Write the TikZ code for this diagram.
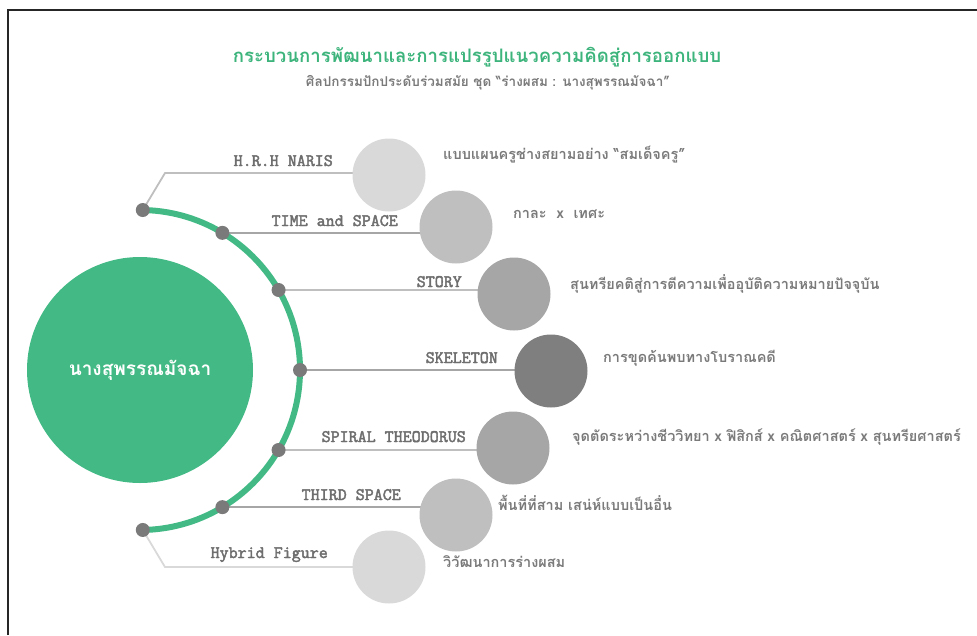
\documentclass[tikz,border=0pt]{standalone}
\usepackage{fontspec}
\newfontfamily\thaifont[Script=Thai]{Loma}
\newfontfamily\labelfont[FakeBold=2.5]{Latin Modern Mono}
\usetikzlibrary{backgrounds,calc}
\definecolor{mgreen}{HTML}{43BA85}
\definecolor{tgreen}{HTML}{3DB47C}
\definecolor{gA}{HTML}{D9D9D9}
\definecolor{gB}{HTML}{BFBFBF}
\definecolor{gC}{HTML}{A6A6A6}
\definecolor{gD}{HTML}{7F7F7F}
\definecolor{dotc}{HTML}{7A7A7A}
\definecolor{labc}{HTML}{6E6E6E}
\definecolor{descc}{HTML}{7A7A7A}
\tikzset{
  ball/.style={circle, minimum size=73pt, inner sep=0pt, fill=#1},
  knot/.style={circle, minimum size=14pt, inner sep=0pt, fill=dotc},
  tag/.style={anchor=base east, inner sep=0pt, text=labc, font=\labelfont\fontsize{17.5}{20}\selectfont},
  desc/.style={anchor=west, inner sep=0pt, text=descc, font=\thaifont\bfseries\fontsize{14.5}{18}\selectfont},
  link/.style={line width=1.8pt, draw=#1},
}
\begin{document}
\begin{tikzpicture}[x=1pt,y=1pt]
\useasboundingbox (0,0) rectangle (977,-635);
% frame
\draw[line width=2pt, black!85] (8,-635) -- (8,-10) -- (977,-10);
% titles
\node[text=tgreen, font=\thaifont\bfseries\fontsize{18.6}{22}\selectfont, inner sep=0pt] (title) at (477,-57) {กระบวนการพัฒนาและการแปรรูปแนวความคิดสู่การออกแบบ};
\node[text=descc, font=\thaifont\bfseries\fontsize{13.5}{16}\selectfont, inner sep=0pt] (subtitle) at (488,-83) {ศิลปกรรมปักประดับร่วมสมัย ชุด “ร่างผสม : นางสุพรรณมัจฉา”};
% main circle
\node[circle, fill=mgreen, minimum size=226pt, inner sep=0pt, text=white, font=\thaifont\bfseries\fontsize{19}{23}\selectfont] (main) at (140,-370) {นางสุพรรณมัจฉา};
% dots
\coordinate (ctr) at (140,-370);
\foreach \i/\a in {1/89,2/59,3/30,4/0,5/-30,6/-59,7/-89}
  \node[knot] (d\i) at ($(ctr)+(\a:160)$) {};
% circles
\node[ball=gA] (c1) at (389,-175) {};
\node[ball=gB] (c2) at (456,-227) {};
\node[ball=gC] (c3) at (514,-294) {};
\node[ball=gD] (c4) at (551,-371) {};
\node[ball=gC] (c5) at (513,-448) {};
\node[ball=gB] (c6) at (456,-515) {};
\node[ball=gA] (c7) at (389,-567) {};
\coordinate (k1) at (165,-173);
\coordinate (k7) at (165,-567);
\begin{pgfonlayer}{background}
\draw[link=gB] (d1.center) -- (k1) -- (k1 -| c1.center);
\draw[link=gC] (d2.center) -- (d2.center -| c2.center);
\draw[link=gB] (d3.center) -- (d3.center -| c3.center);
\draw[link=gC] (d4.center) -- (d4.center -| c4.center);
\draw[link=gB] (d5.center) -- (d5.center -| c5.center);
\draw[link=gC] (d6.center) -- (d6.center -| c6.center);
\draw[link=gA] (d7.center) -- (k7) -- (k7 -| c7.center);
\draw[line width=6pt, mgreen] (d1.center) arc[start angle=89, end angle=-89, radius=160];
\end{pgfonlayer}
% labels
\node[tag] (t1) at (333,-166) {H.R.H NARIS};
\node[tag] (t2) at (398,-226) {TIME and SPACE};
\node[tag] (t3) at (462,-287) {STORY};
\node[tag] (t4) at (498,-363) {SKELETON};
\node[tag] (t5) at (466,-442) {SPIRAL THEODORUS};
\node[tag] (t6) at (401,-500) {THIRD SPACE};
\node[tag] (t7) at (328,-558) {Hybrid Figure};
% descriptions
\node[desc] (e1) at (443,-155) {แบบแผนครูช่างสยามอย่าง “สมเด็จครู”};
\node[desc] (e2) at (513,-214) {กาละ \ x \ เทศะ};
\node[desc] (e3) at (570,-284) {สุนทรียคติสู่การตีความเพื่ออุบัติความหมายปัจจุบัน};
\node[desc] (e4) at (603,-358) {การขุดค้นพบทางโบราณคดี};
\node[desc] (e5) at (572,-437) {จุดตัดระหว่างชีววิทยา x ฟิสิกส์ x คณิตศาสตร์ x สุนทรียศาสตร์};
\node[desc] (e6) at (498,-503) {พื้นที่ที่สาม เสน่ห์แบบเป็นอื่น};
\node[desc] (e7) at (443,-562) {วิวัฒนาการร่างผสม};
\end{tikzpicture}
\end{document}
